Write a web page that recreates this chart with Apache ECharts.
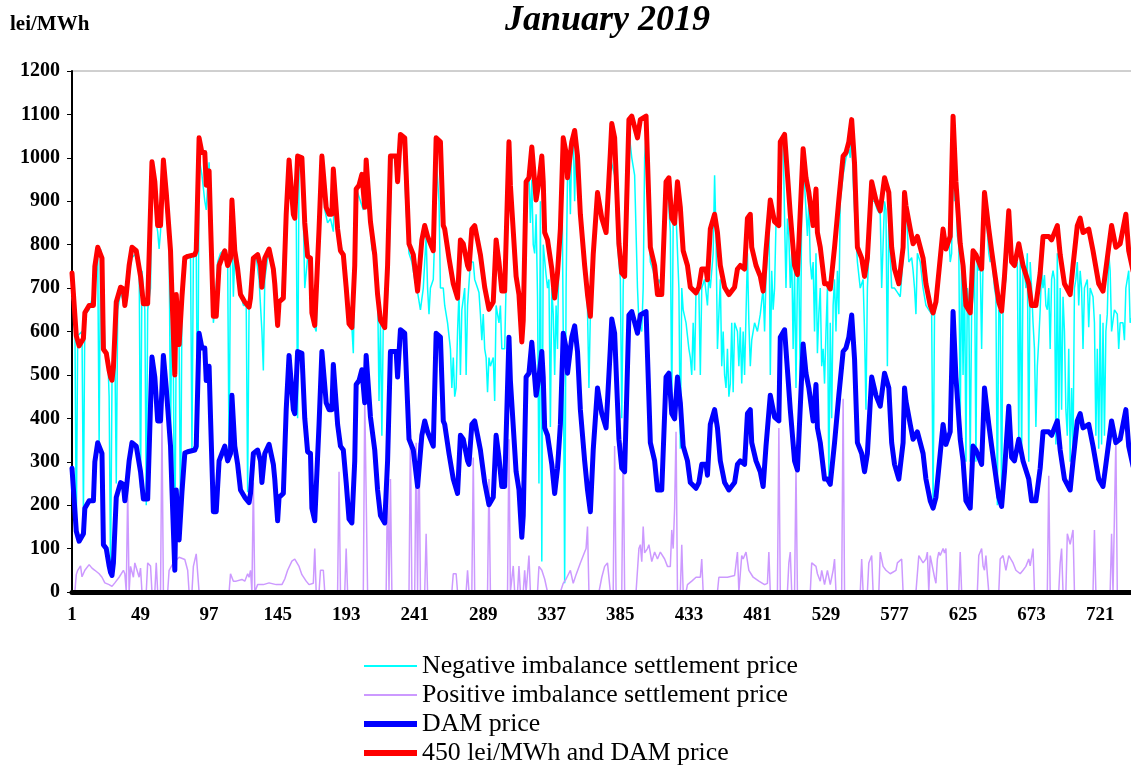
<!DOCTYPE html>
<html>
<head>
<meta charset="utf-8">
<script src="https://cdn.jsdelivr.net/npm/echarts@6/dist/echarts.min.js"></script>
<style>
html,body{margin:0;padding:0;background:#fff;}
#chart{width:1131px;height:771px;}
</style>
</head>
<body>
<div id="chart"></div>
<script>
// ---- DATA (hour of month, lei/MWh) ----
const xTickLabels = ['1','49','97','145','193','241','289','337','385','433','481','529','577','625','673','721'];
const capAdder = 450; // "450 lei/MWh and DAM price"

const damPts = [[1,285],[4,140],[6,117],[9,134],[10,193],[13,210],[16,210],[17,300],[19,344],[22,319],[23,109],[25,100],[27,60],[28,45],[29,38],[30,67],[32,218],[35,252],[37,248],[38,210],[39,235],[41,302],[43,344],[46,336],[49,277],[51,214],[54,214],[57,541],[59,495],[61,394],[63,394],[65,545],[67,470],[70,336],[71,235],[73,50],[74,235],[76,120],[78,230],[80,320],[82,323],[87,327],[88,336],[90,596],[92,562],[94,562],[95,487],[97,520],[98,403],[100,185],[102,185],[104,302],[106,319],[108,336],[110,302],[112,319],[113,453],[115,336],[117,294],[119,235],[122,218],[123,222],[125,206],[126,227],[128,319],[131,327],[133,302],[134,252],[136,319],[139,340],[142,294],[143,260],[145,164],[146,218],[149,227],[151,420],[153,545],[156,420],[157,411],[159,554],[162,550],[164,400],[166,323],[168,319],[169,193],[171,164],[174,386],[176,554],[179,436],[181,420],[183,420],[184,524],[187,386],[189,336],[191,327],[193,252],[195,168],[197,159],[199,302],[200,478],[202,487],[204,512],[206,436],[207,545],[210,403],[213,327],[215,235],[217,176],[220,159],[222,302],[224,554],[228,554],[229,495],[231,604],[234,596],[237,352],[240,327],[243,243],[244,243],[246,361],[248,394],[250,369],[253,344],[254,336],[256,596],[259,587],[261,394],[262,386],[265,319],[268,260],[271,227],[273,361],[275,352],[278,302],[279,294],[281,386],[283,394],[285,361],[287,327],[290,252],[293,201],[296,218],[298,361],[300,310],[302,243],[304,243],[307,587],[308,487],[312,277],[314,235],[316,126],[317,176],[319,495],[321,504],[323,575],[326,453],[328,495],[330,554],[331,495],[332,378],[334,361],[337,294],[339,227],[341,285],[343,386],[345,596],[347,562],[348,504],[351,587],[353,613],[355,554],[357,420],[360,302],[362,235],[364,185],[366,327],[369,470],[372,411],[375,378],[378,562],[379,629],[381,596],[384,352],[386,285],[388,277],[391,638],[393,646],[397,596],[399,638],[403,646],[406,344],[409,302],[411,235],[414,235],[417,495],[419,504],[421,411],[423,399],[425,495],[427,436],[429,336],[432,302],[434,252],[438,239],[440,252],[442,294],[445,294],[446,269],[448,386],[451,420],[453,378],[455,302],[458,252],[461,235],[465,252],[467,294],[469,302],[472,294],[474,411],[476,420],[477,344],[480,302],[483,277],[485,243],[487,336],[490,453],[493,403],[496,394],[497,587],[500,604],[502,512],[504,420],[507,302],[509,281],[513,571],[515,504],[517,470],[520,394],[522,478],[523,378],[525,344],[528,260],[530,260],[532,248],[535,344],[538,453],[541,554],[543,562],[545,587],[547,638],[549,537],[551,344],[554,319],[556,277],[558,319],[561,495],[564,453],[567,428],[570,504],[573,470],[575,344],[577,294],[580,260],[583,344],[584,470],[585,440],[588,386],[590,352],[593,369],[597,319],[599,260],[602,210],[604,193],[606,218],[609,319],[611,386],[613,340],[616,369],[618,646],[620,495],[623,352],[625,302],[627,210],[630,193],[632,336],[634,327],[638,294],[640,470],[643,386],[645,336],[650,218],[652,197],[654,277],[657,428],[659,310],[661,302],[664,352],[667,302],[671,260],[673,210],[676,210],[679,285],[681,369],[685,369],[687,361],[691,394],[693,327],[696,260],[700,235],[702,302],[705,394],[707,411],[709,378],[713,386],[716,336],[720,260],[723,243],[727,344],[729,394],[732,344],[735,352],[739,420],[741,336],[744,290]];

const negPts = [[1,680],[3,640],[4,130],[5,590],[8,600],[9,180],[10,640],[13,650],[17,700],[19,780],[20,340],[21,790],[23,700],[24,560],[26,550],[27,450],[28,50],[29,480],[31,560],[32,250],[33,650],[35,690],[38,660],[41,730],[43,770],[46,780],[48,770],[49,240],[50,740],[52,650],[53,200],[54,650],[56,700],[57,990],[59,900],[60,850],[61,830],[62,790],[63,830],[65,990],[67,880],[69,820],[70,340],[71,700],[72,500],[73,60],[74,600],[76,580],[77,150],[78,650],[80,760],[82,770],[84,770],[85,330],[86,770],[88,780],[89,330],[90,1000],[92,960],[94,900],[95,880],[97,990],[98,920],[100,620],[101,650],[103,760],[105,780],[108,790],[110,760],[111,300],[112,770],[113,850],[114,680],[115,780],[117,720],[119,690],[121,660],[123,660],[124,230],[125,660],[127,680],[128,760],[130,770],[132,720],[134,600],[135,510],[136,720],[138,770],[140,770],[142,720],[144,650],[146,670],[148,680],[150,850],[152,980],[154,960],[156,880],[158,880],[159,400],[160,990],[162,990],[163,860],[164,700],[166,770],[168,760],[170,620],[172,600],[174,830],[176,990],[178,880],[180,850],[182,860],[184,830],[185,960],[187,860],[189,800],[191,780],[193,700],[195,640],[197,610],[198,550],[199,750],[201,920],[203,900],[205,880],[206,880],[207,990],[209,890],[211,790],[213,770],[215,700],[216,440],[217,620],[218,360],[219,620],[221,620],[223,760],[225,1000],[227,1000],[229,940],[231,1040],[233,1040],[235,880],[237,780],[239,760],[241,720],[243,690],[245,650],[247,700],[249,820],[250,700],[251,640],[252,700],[254,720],[255,820],[256,1000],[258,900],[259,700],[261,700],[262,660],[264,620],[266,560],[267,470],[268,540],[269,450],[270,470],[271,600],[272,690],[273,500],[274,650],[276,700],[277,500],[278,660],[280,760],[282,760],[283,720],[285,700],[286,690],[287,640],[288,580],[289,640],[290,560],[291,540],[292,460],[293,540],[294,520],[296,540],[297,440],[298,660],[300,620],[301,660],[302,560],[304,560],[306,860],[307,1030],[308,900],[310,800],[312,720],[314,690],[316,600],[317,580],[318,860],[319,920],[321,960],[322,850],[323,950],[324,800],[325,780],[326,870],[327,680],[328,250],[329,900],[330,70],[331,800],[333,730],[334,700],[335,720],[336,380],[337,700],[338,640],[339,500],[340,660],[341,560],[342,800],[343,900],[344,1000],[345,600],[346,20],[347,700],[348,960],[349,1000],[350,870],[351,1040],[352,1050],[353,900],[354,1050],[355,960],[356,880],[357,850],[359,780],[361,700],[362,650],[363,470],[364,640],[366,760],[368,900],[370,880],[372,860],[374,830],[376,920],[378,1000],[379,1000],[381,960],[382,900],[383,800],[385,720],[386,400],[387,700],[389,960],[390,1000],[391,1060],[393,1000],[395,960],[397,700],[398,620],[400,600],[401,700],[402,1000],[403,1050],[404,950],[406,760],[408,740],[410,700],[412,720],[414,700],[416,900],[418,940],[420,830],[421,430],[422,850],[424,870],[426,700],[427,330],[428,700],[429,650],[431,620],[433,560],[434,540],[435,500],[436,620],[437,510],[438,700],[440,690],[441,500],[442,700],[444,720],[446,660],[447,730],[448,700],[450,780],[451,960],[452,820],[453,560],[454,640],[455,720],[456,520],[457,600],[458,500],[459,470],[460,560],[461,450],[462,480],[463,620],[464,460],[465,620],[467,600],[468,520],[469,610],[470,480],[471,600],[472,500],[473,640],[474,780],[475,620],[476,520],[477,580],[479,620],[481,600],[483,640],[485,700],[486,600],[487,720],[488,780],[489,900],[490,500],[491,740],[492,650],[493,700],[494,850],[496,880],[497,1040],[499,1040],[500,860],[501,700],[502,860],[503,820],[504,700],[505,780],[506,560],[507,740],[508,470],[509,720],[510,740],[511,470],[512,900],[513,1000],[514,940],[515,880],[516,820],[517,900],[518,760],[519,720],[520,760],[521,600],[522,780],[523,550],[524,640],[525,700],[526,520],[527,560],[528,480],[529,600],[530,700],[531,250],[532,620],[533,400],[534,660],[535,720],[536,600],[537,740],[538,640],[539,900],[541,960],[543,1000],[545,1020],[546,1000],[547,1080],[548,950],[549,880],[551,760],[553,700],[555,720],[556,600],[557,420],[558,700],[560,860],[561,900],[563,900],[565,880],[567,870],[568,700],[570,900],[571,880],[572,520],[573,860],[575,700],[577,700],[579,690],[581,680],[583,770],[585,900],[587,760],[589,770],[590,740],[591,700],[592,640],[593,780],[595,760],[597,700],[599,660],[601,650],[603,640],[604,190],[605,640],[607,680],[609,770],[611,830],[613,800],[615,820],[616,760],[617,780],[618,1050],[619,900],[620,940],[621,820],[622,800],[623,380],[624,780],[625,500],[626,750],[627,300],[628,700],[629,660],[630,300],[631,650],[632,680],[633,780],[634,300],[635,780],[636,740],[637,760],[638,560],[639,760],[640,900],[641,860],[642,830],[643,780],[644,760],[645,780],[647,700],[648,680],[649,200],[650,650],[651,640],[652,200],[653,680],[655,720],[657,870],[658,820],[659,780],[661,750],[663,760],[664,340],[665,780],[666,300],[667,760],[668,740],[669,700],[670,780],[671,300],[672,760],[673,700],[674,620],[675,560],[676,380],[677,520],[678,580],[679,650],[680,740],[681,700],[682,730],[683,660],[684,650],[685,700],[686,560],[687,720],[688,740],[689,720],[690,340],[691,780],[692,380],[693,700],[694,420],[695,680],[696,600],[697,420],[698,360],[699,560],[700,300],[701,470],[702,320],[703,700],[704,720],[705,760],[706,660],[707,740],[708,700],[709,560],[710,700],[712,720],[713,610],[714,700],[716,680],[717,620],[718,360],[719,560],[720,330],[721,640],[722,340],[723,620],[724,360],[725,600],[726,640],[727,780],[728,740],[729,600],[731,650],[733,640],[734,560],[735,620],[737,620],[738,580],[739,700],[741,740],[742,620],[744,640]];

const posPts = [[1,0],[3,0],[4,40],[5,50],[7,60],[8,35],[10,50],[13,63],[15,55],[17,50],[20,42],[22,34],[24,21],[27,17],[29,13],[31,21],[34,34],[37,50],[38,42],[39,0],[40,235],[41,0],[42,59],[44,34],[45,67],[48,34],[49,55],[50,0],[53,0],[54,67],[56,60],[57,0],[59,0],[60,67],[61,0],[63,0],[64,394],[65,0],[68,0],[69,50],[72,67],[76,80],[80,75],[82,50],[83,0],[85,0],[86,59],[88,88],[89,88],[90,0],[111,0],[112,42],[114,25],[116,25],[120,29],[122,25],[124,42],[125,34],[126,50],[127,0],[128,252],[129,0],[130,0],[131,17],[135,17],[139,21],[144,17],[148,17],[150,30],[152,50],[155,71],[157,76],[160,59],[162,40],[165,25],[167,17],[170,20],[171,100],[172,0],[174,0],[175,50],[177,50],[178,0],[187,0],[188,277],[189,0],[192,0],[193,100],[194,0],[205,0],[206,445],[207,445],[208,0],[221,0],[222,260],[223,0],[224,260],[225,0],[237,0],[238,361],[239,0],[241,0],[242,344],[243,0],[244,344],[245,0],[248,0],[249,134],[250,0],[267,0],[268,42],[270,42],[271,0],[277,0],[278,50],[279,0],[281,0],[282,310],[283,0],[292,0],[293,260],[294,0],[306,0],[307,352],[308,0],[309,0],[310,60],[311,0],[313,0],[314,60],[315,0],[317,0],[318,50],[319,0],[321,84],[322,0],[327,0],[328,59],[330,50],[332,30],[334,0],[343,0],[345,20],[347,30],[350,50],[352,20],[354,40],[357,67],[360,92],[361,100],[362,151],[363,0],[370,0],[372,34],[374,59],[376,67],[378,0],[380,0],[381,336],[382,0],[386,0],[387,344],[388,0],[396,0],[397,50],[398,100],[399,109],[400,70],[401,151],[402,90],[404,100],[405,109],[407,70],[409,92],[411,76],[413,92],[416,76],[418,59],[420,59],[421,143],[422,100],[423,193],[424,369],[425,0],[427,0],[428,109],[429,0],[431,0],[432,17],[435,25],[438,34],[441,34],[442,76],[443,0],[453,0],[454,34],[456,34],[460,34],[465,38],[466,40],[467,92],[468,0],[469,0],[470,84],[471,76],[473,92],[475,50],[478,34],[482,25],[486,17],[488,20],[489,92],[490,0],[495,0],[496,378],[497,0],[502,0],[503,67],[504,92],[505,0],[507,0],[508,285],[509,0],[518,0],[519,67],[522,59],[523,42],[525,25],[526,50],[527,34],[528,17],[530,50],[532,17],[534,50],[535,76],[536,0],[540,0],[541,445],[542,0],[553,0],[554,76],[555,0],[558,0],[559,67],[561,84],[562,0],[566,0],[567,92],[569,59],[571,50],[574,42],[578,50],[579,67],[582,76],[583,0],[592,0],[594,84],[597,67],[599,76],[600,92],[601,0],[602,84],[605,34],[606,20],[607,76],[608,92],[609,84],[611,100],[612,90],[613,100],[614,0],[622,0],[623,92],[624,0],[635,0],[636,84],[638,100],[639,60],[640,50],[641,84],[642,40],[643,0],[650,0],[651,76],[653,84],[655,50],[657,84],[660,67],[662,50],[665,42],[667,50],[669,59],[671,76],[672,60],[674,100],[675,0],[684,0],[685,268],[686,0],[692,0],[693,67],[694,100],[695,0],[697,0],[698,134],[700,110],[702,143],[703,0],[716,0],[717,143],[718,0],[728,0],[729,134],[730,0],[731,0],[732,352],[733,0],[744,0]];

// ---- CHART ----
const SERIF = '"Liberation Serif","Times New Roman",serif';
const toXY = pts => pts.map(p => [p[0] - 1, p[1]]);
const redPts = damPts.map(p => [p[0], p[1] + capAdder]);
const thinIcon = 'path://M0,0H53V2H0Z';
const thickIcon = 'path://M0,0H53V6H0Z';

const chart = echarts.init(document.getElementById('chart'), null, {renderer: 'canvas'});
chart.setOption({
  animation: false,
  backgroundColor: '#fff',
  title: [
    {text: 'January 2019', left: 500, top: -2, textStyle: {fontFamily: SERIF, fontStyle: 'italic', fontWeight: 'bold', fontSize: 36, color: '#000'}},
    {text: 'lei/MWh', left: 5, top: 9, textStyle: {fontFamily: SERIF, fontWeight: 'bold', fontSize: 21, color: '#000'}}
  ],
  grid: {left: 72, right: -2, top: 71, bottom: 179, show: true, borderColor: '#a0a0a0', borderWidth: 1, outerBoundsMode: 'none'},
  legend: {
    orient: 'vertical', left: 359, top: 648, height: 140, itemWidth: 53, itemHeight: 20, itemGap: 3,
    textStyle: {fontFamily: SERIF, fontSize: 25.8, color: '#000', lineHeight: 22},
    data: [
      {name: 'Negative imbalance settlement price', icon: thinIcon},
      {name: 'Positive imbalance settlement price', icon: thinIcon},
      {name: 'DAM price', icon: thickIcon},
      {name: '450 lei/MWh and DAM price', icon: thickIcon}
    ]
  },
  xAxis: {
    type: 'value', min: 0, max: 743, interval: 48, z: 10,
    axisLine: {show: true, onZero: false, lineStyle: {color: '#000', width: 5}},
    axisTick: {show: false},
    splitLine: {show: false},
    axisLabel: {fontFamily: SERIF, fontWeight: 'bold', fontSize: 19, color: '#000', margin: 14, showMaxLabel: false,
      formatter: v => (v % 48 === 0 ? (xTickLabels[v / 48] || '') : '')}
  },
  yAxis: {
    type: 'value', min: 0, max: 1200, interval: 100,
    axisLine: {show: true, lineStyle: {color: '#000', width: 2}},
    axisTick: {show: true, length: 5, lineStyle: {color: '#000', width: 1}},
    splitLine: {show: false},
    axisLabel: {fontFamily: SERIF, fontWeight: 'bold', fontSize: 20, color: '#000', margin: 12, formatter: v => String(v)}
  },
  series: [
    {name: 'Negative imbalance settlement price', type: 'line', data: toXY(negPts), symbol: 'none', z: 2,
      lineStyle: {color: '#00FFFF', width: 1.5}, itemStyle: {color: '#00FFFF'}},
    {name: 'Positive imbalance settlement price', type: 'line', data: toXY(posPts), symbol: 'none', z: 3,
      lineStyle: {color: '#CC99FF', width: 1.5}, itemStyle: {color: '#CC99FF'}},
    {name: 'DAM price', type: 'line', data: toXY(damPts), symbol: 'none', z: 4,
      lineStyle: {color: '#0000FF', width: 5, join: 'round', cap: 'round'}, itemStyle: {color: '#0000FF'}},
    {name: '450 lei/MWh and DAM price', type: 'line', data: toXY(redPts), symbol: 'none', z: 5,
      lineStyle: {color: '#FF0000', width: 5, join: 'round', cap: 'round'}, itemStyle: {color: '#FF0000'}}
  ]
});
</script>
</body>
</html>
